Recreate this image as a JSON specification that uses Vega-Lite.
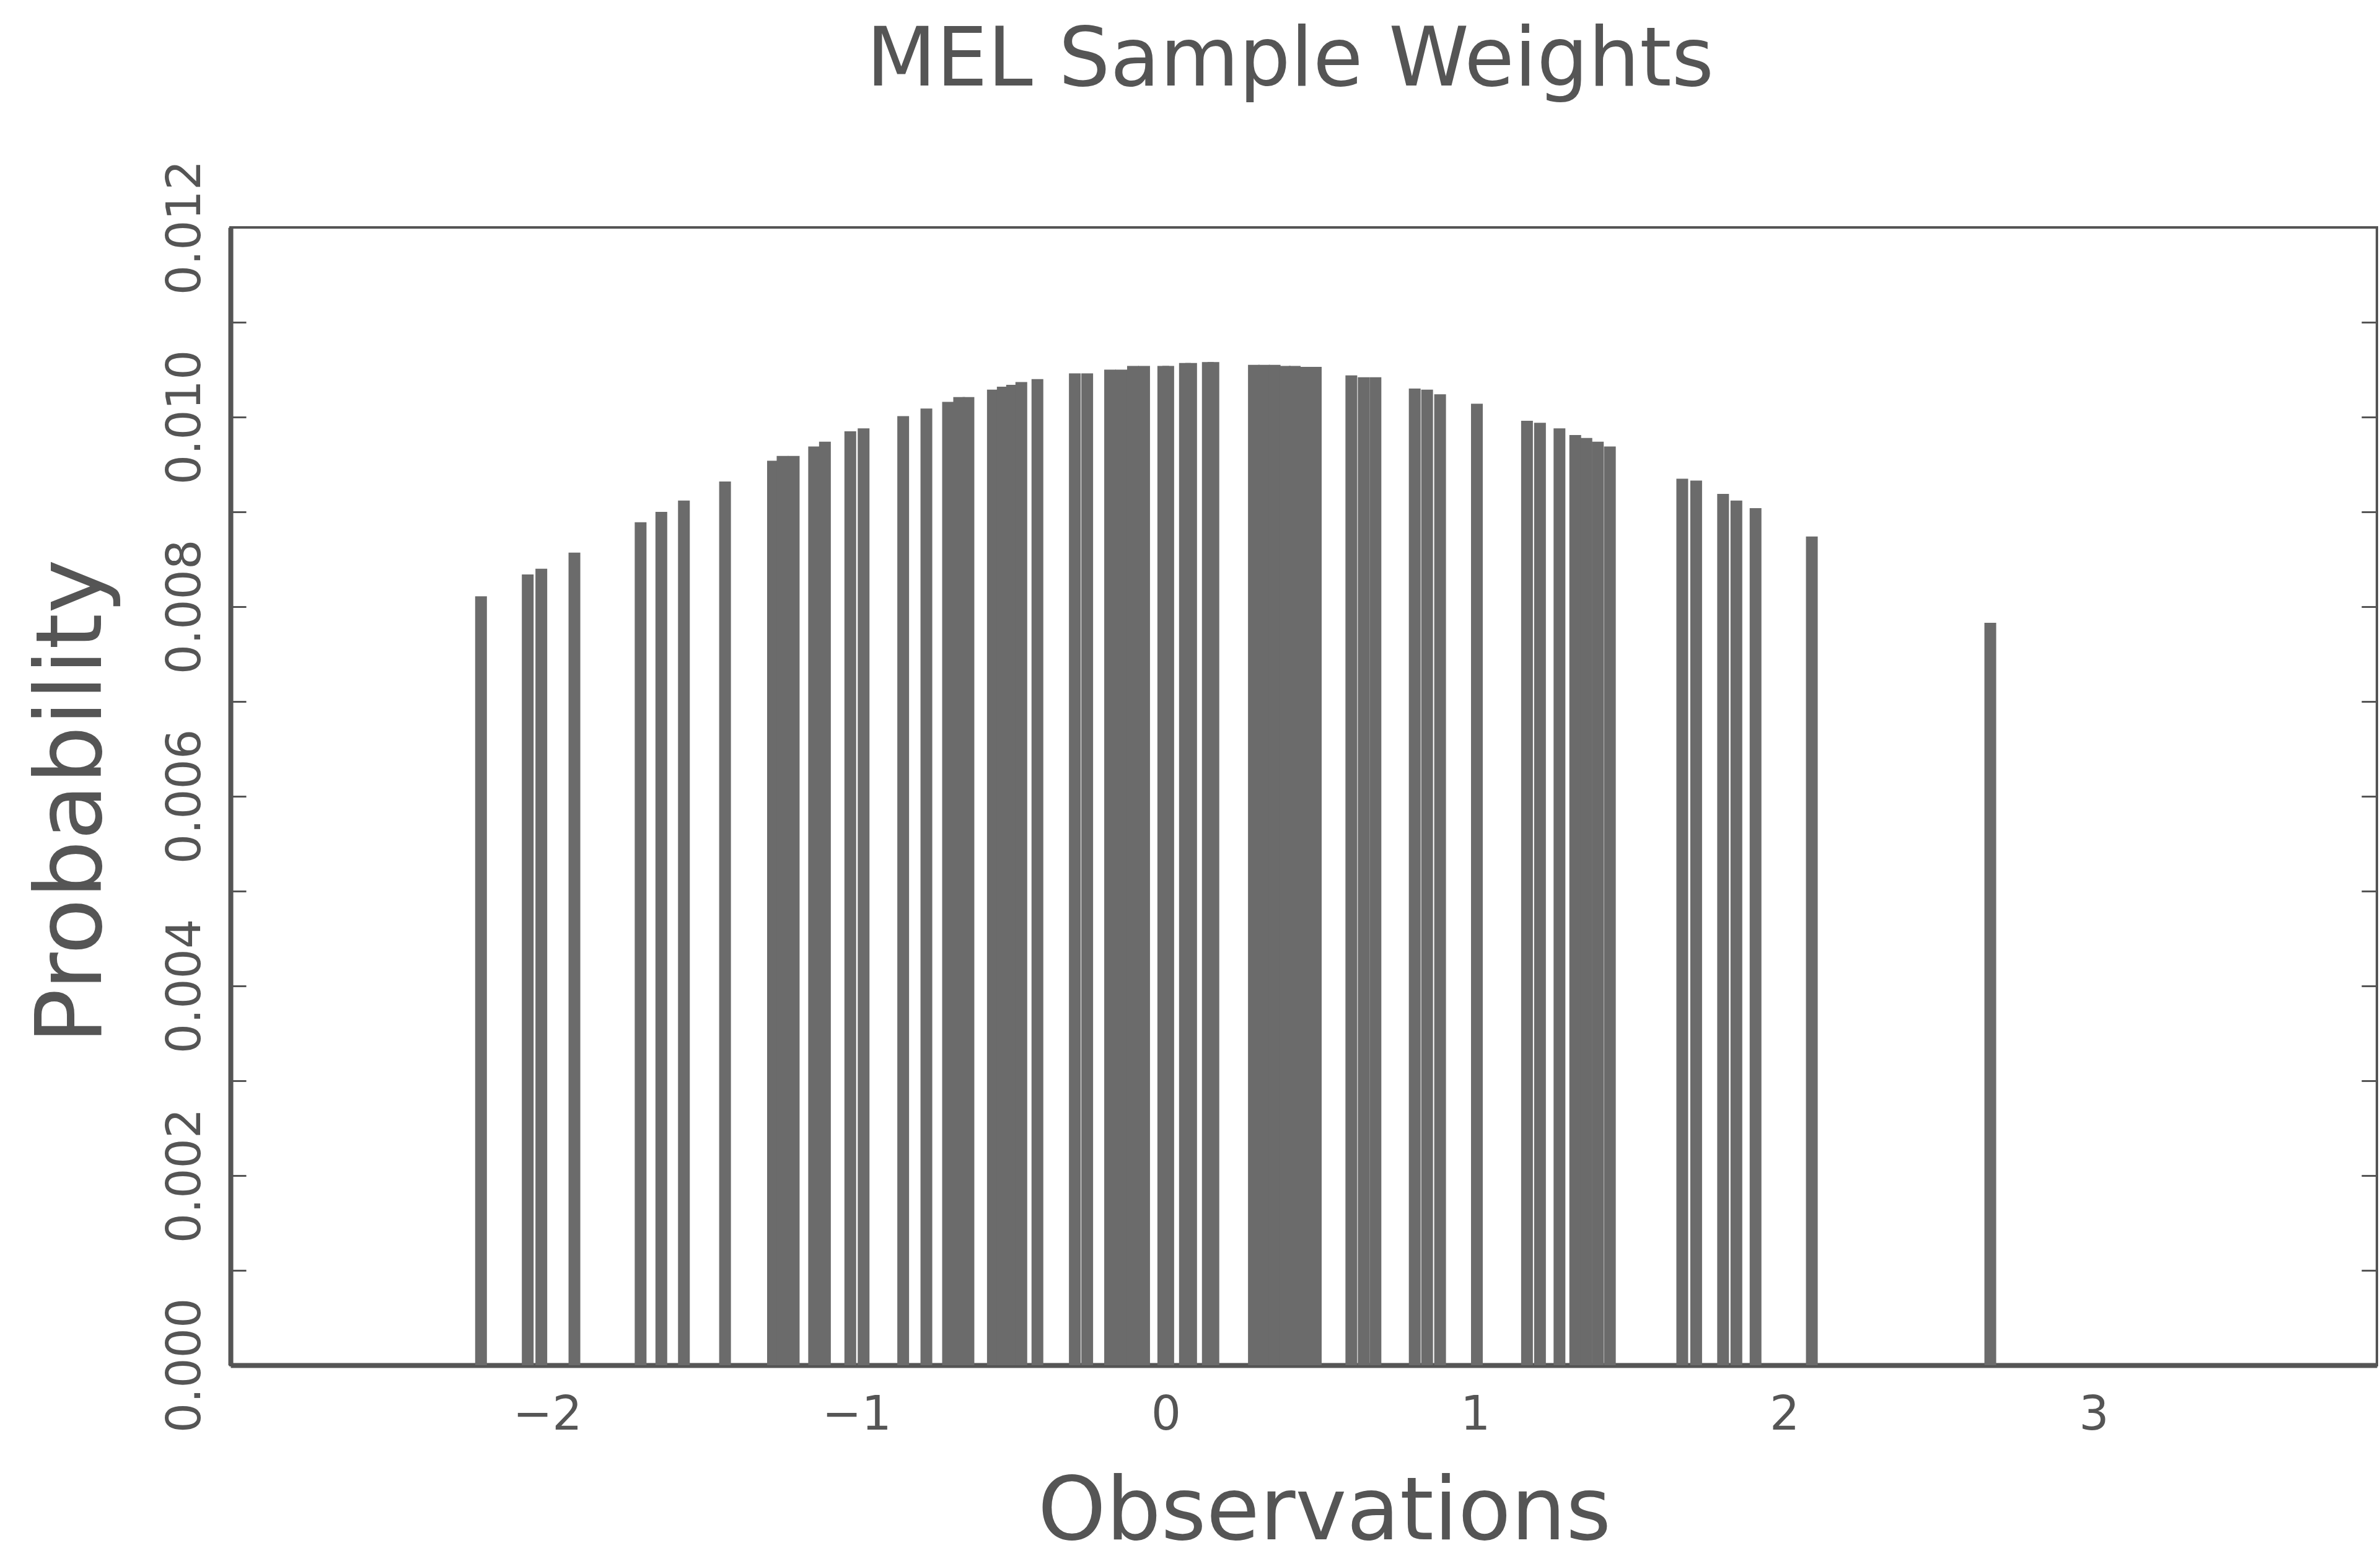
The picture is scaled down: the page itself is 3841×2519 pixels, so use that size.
{
  "$schema": "https://vega.github.io/schema/vega-lite/v6.json",
  "width": 3464,
  "height": 1836,
  "autosize": {"type": "none"},
  "padding": {"left": 372, "top": 367, "right": 5, "bottom": 316},
  "background": "white",
  "title": {"text": "MEL Sample Weights", "frame": "group", "anchor": "middle", "baseline": "middle", "offset": 28, "dx": -22, "font": "DejaVu Sans", "fontSize": 131, "fontWeight": "normal", "color": "#555555"},
  "config": {"view": {"stroke": "#555555", "strokeWidth": 4}, "axis": {"grid": false}},
  "data": {"values": [
    {"obs": -2.170, "prob": 0.00811},
    {"obs": -2.019, "prob": 0.00834},
    {"obs": -1.975, "prob": 0.00840},
    {"obs": -1.868, "prob": 0.00857},
    {"obs": -1.654, "prob": 0.00889},
    {"obs": -1.587, "prob": 0.00900},
    {"obs": -1.514, "prob": 0.00912},
    {"obs": -1.381, "prob": 0.00932},
    {"obs": -1.226, "prob": 0.00954},
    {"obs": -1.195, "prob": 0.00959},
    {"obs": -1.159, "prob": 0.00959},
    {"obs": -1.093, "prob": 0.00969},
    {"obs": -1.058, "prob": 0.00974},
    {"obs": -0.976, "prob": 0.00985},
    {"obs": -0.933, "prob": 0.00988},
    {"obs": -0.805, "prob": 0.01001},
    {"obs": -0.730, "prob": 0.01009},
    {"obs": -0.660, "prob": 0.01016},
    {"obs": -0.624, "prob": 0.01021},
    {"obs": -0.594, "prob": 0.01021},
    {"obs": -0.515, "prob": 0.01029},
    {"obs": -0.483, "prob": 0.01032},
    {"obs": -0.453, "prob": 0.01034},
    {"obs": -0.423, "prob": 0.01037},
    {"obs": -0.371, "prob": 0.01040},
    {"obs": -0.250, "prob": 0.01046},
    {"obs": -0.210, "prob": 0.01046},
    {"obs": -0.136, "prob": 0.01050},
    {"obs": -0.100, "prob": 0.01050},
    {"obs": -0.062, "prob": 0.01054},
    {"obs": -0.026, "prob": 0.01054},
    {"obs": 0.036, "prob": 0.01054},
    {"obs": 0.052, "prob": 0.01054},
    {"obs": 0.106, "prob": 0.01057},
    {"obs": 0.126, "prob": 0.01057},
    {"obs": 0.180, "prob": 0.01058},
    {"obs": 0.198, "prob": 0.01058},
    {"obs": 0.329, "prob": 0.01055},
    {"obs": 0.362, "prob": 0.01055},
    {"obs": 0.396, "prob": 0.01055},
    {"obs": 0.429, "prob": 0.01054},
    {"obs": 0.461, "prob": 0.01054},
    {"obs": 0.495, "prob": 0.01053},
    {"obs": 0.529, "prob": 0.01053},
    {"obs": 0.644, "prob": 0.01044},
    {"obs": 0.684, "prob": 0.01042},
    {"obs": 0.722, "prob": 0.01042},
    {"obs": 0.849, "prob": 0.01030},
    {"obs": 0.889, "prob": 0.01029},
    {"obs": 0.931, "prob": 0.01024},
    {"obs": 1.050, "prob": 0.01014},
    {"obs": 1.212, "prob": 0.00996},
    {"obs": 1.254, "prob": 0.00994},
    {"obs": 1.317, "prob": 0.00988},
    {"obs": 1.368, "prob": 0.00981},
    {"obs": 1.404, "prob": 0.00978},
    {"obs": 1.441, "prob": 0.00974},
    {"obs": 1.480, "prob": 0.00969},
    {"obs": 1.714, "prob": 0.00935},
    {"obs": 1.759, "prob": 0.00933},
    {"obs": 1.846, "prob": 0.00919},
    {"obs": 1.889, "prob": 0.00912},
    {"obs": 1.951, "prob": 0.00904},
    {"obs": 2.133, "prob": 0.00874},
    {"obs": 2.710, "prob": 0.00783}
  ]},
  "layer": [
    {
      "mark": {"type": "bar", "orient": "vertical", "width": 19, "color": "#6b6b6b", "opacity": 1},
      "encoding": {
        "x": {
          "field": "obs", "type": "quantitative",
          "scale": {"domain": [-2.97, 3.95], "nice": false, "zero": false},
          "axis": {
            "orient": "bottom", "values": [-2, -1, 0, 1, 2, 3], "format": "d",
            "ticks": false, "tickSize": 0, "labelPadding": 80, "labelBaseline": "middle",
            "labelOffset": 22, "labelFlush": false, "labelOverlap": false,
            "labelFont": "DejaVu Sans", "labelFontSize": 76, "labelColor": "#555555",
            "domainColor": "#555555", "domainWidth": 8,
            "title": "Observations", "titleFont": "DejaVu Sans", "titleFontSize": 140,
            "titleFontWeight": "normal", "titleColor": "#555555",
            "titleX": 1765, "titleY": 238, "titleBaseline": "middle", "titleAlign": "center"
          }
        },
        "y": {
          "field": "prob", "type": "quantitative",
          "scale": {"domain": [0, 0.012], "nice": false},
          "axis": {
            "orient": "left",
            "values": [0, 0.001, 0.002, 0.003, 0.004, 0.005, 0.006, 0.007, 0.008, 0.009, 0.01, 0.011, 0.012],
            "labelExpr": "round(datum.value*1000) % 2 == 0 ? format(datum.value, '.3f') : ''",
            "labelAngle": 270, "labelAlign": "center", "labelBaseline": "middle",
            "labelPadding": 98, "tickSize": -25, "tickColor": "#555555", "tickWidth": 3,
            "domainColor": "#555555", "domainWidth": 8, "labelOverlap": false, "labelFlush": false,
            "labelLimit": 0,
            "labelFont": "DejaVu Sans", "labelFontSize": 76, "labelColor": "#555555",
            "title": "Probability", "titleFont": "DejaVu Sans", "titleFontSize": 148,
            "titleFontWeight": "normal", "titleColor": "#555555", "titleAngle": 270,
            "titleAlign": "center", "titleBaseline": "middle", "titleX": -254, "titleY": 926
          }
        }
      }
    },
    {
      "mark": {"type": "point", "opacity": 0},
      "encoding": {
        "y": {
          "field": "prob", "type": "quantitative",
          "axis": {
            "orient": "right",
            "values": [0, 0.001, 0.002, 0.003, 0.004, 0.005, 0.006, 0.007, 0.008, 0.009, 0.01, 0.011, 0.012],
            "labels": false, "domain": false, "tickSize": -25, "tickColor": "#555555", "tickWidth": 3,
            "title": null
          }
        }
      }
    }
  ],
  "resolve": {"axis": {"y": "independent"}}
}
